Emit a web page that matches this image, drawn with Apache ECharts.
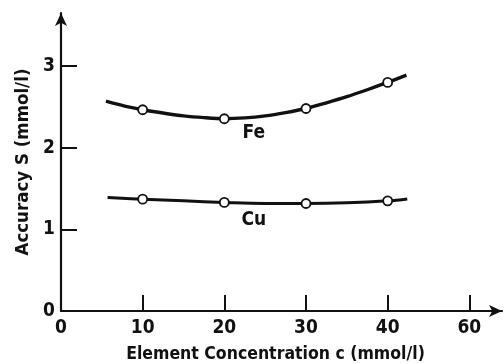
<!DOCTYPE html>
<html><head><meta charset="utf-8">
<script src="https://cdn.jsdelivr.net/npm/echarts@6/dist/echarts.min.js"></script>
<style>html,body{margin:0;padding:0;background:#fff}#c{width:504px;height:364px}</style>
</head><body><div id="c"></div>
<script>
// Data
const xTickValues = [10, 20, 30, 40, 50];
const xLabelValues = [0, 10, 20, 30, 40, 50];
const xTickLabels = ['0', '10', '20', '30', '40', '60'];
const yTickValues = [1, 2, 3];
const yLabelValues = [0, 1, 2, 3];
const feCurve = [[5.5,2.57],[7.8,2.51],[10,2.465],[12.5,2.425],[15,2.39],[17.5,2.368],[20,2.355],[22.5,2.365],[25,2.39],[27.5,2.43],[30,2.48],[32.5,2.55],[35,2.625],[37.5,2.71],[40,2.80],[42.3,2.89]];
const cuCurve = [[5.7,1.39],[10,1.37],[15,1.349],[20,1.33],[25,1.318],[30,1.317],[35,1.325],[40,1.349],[42.4,1.373]];
const fePoints = [[10,2.465],[20,2.355],[30,2.48],[40,2.80]];
const cuPoints = [[10,1.37],[20,1.33],[30,1.317],[40,1.349]];
const curveLabels = [[23.6,2.175,'Fe'],[23.6,1.11,'Cu']];

const FONT = "'DejaVu Sans Condensed','Liberation Sans Narrow','Roboto Condensed','DejaVu Sans',sans-serif";
const INK = '#111';
const FW = 'bold';
const chart = echarts.init(document.getElementById('c'), null, {renderer:'canvas'});
chart.setOption({
  animation: false,
  backgroundColor: '#fff',
  grid: {left: 61, right: 2, top: 13, bottom: 53, containLabel: false, outerBoundsMode: 'none'},
  xAxis: {
    type: 'value', min: 0, max: 54,
    name: 'Element Concentration c (mmol/l)', nameLocation: 'middle', nameGap: 34,
    nameTextStyle: {fontFamily: FONT, fontSize: 17.5, fontWeight: FW, color: INK, padding: [0, 12, 0, 0]},
    axisLine: {show: true, lineStyle: {color: INK, width: 2.2}, symbol: ['none', 'arrow'], symbolSize: [9, 13]},
    axisTick: {show: true, inside: true, length: 16, lineStyle: {color: INK, width: 2}, customValues: xTickValues},
    axisLabel: {customValues: xLabelValues, margin: 8, fontFamily: FONT, fontSize: 19, fontWeight: FW, color: INK,
      formatter: v => xTickLabels[xLabelValues.indexOf(v)] ?? ''},
    splitLine: {show: false}
  },
  yAxis: {
    type: 'value', min: 0, max: 3.65,
    name: 'Accuracy S (mmol/l)', nameLocation: 'middle', nameGap: 27,
    nameTextStyle: {fontFamily: FONT, fontSize: 18.5, fontWeight: FW, color: INK},
    axisLine: {show: true, lineStyle: {color: INK, width: 2.2}, symbol: ['none', 'arrow'], symbolSize: [9, 13]},
    axisTick: {show: true, inside: true, length: 16, lineStyle: {color: INK, width: 2}, customValues: yTickValues},
    axisLabel: {customValues: yLabelValues, margin: 6, fontFamily: FONT, fontSize: 19, fontWeight: FW, color: INK},
    splitLine: {show: false}
  },
  series: [
    {type: 'line', data: feCurve, smooth: 0.3, showSymbol: false, symbol: 'none', lineStyle: {color: INK, width: 3.4}},
    {type: 'line', data: cuCurve, smooth: 0.4, showSymbol: false, symbol: 'none', lineStyle: {color: INK, width: 3}},
    {type: 'scatter', data: fePoints, symbol: 'circle', symbolSize: 9, itemStyle: {color: '#fff', opacity: 1, borderColor: INK, borderWidth: 1.8}, z: 5},
    {type: 'scatter', data: cuPoints, symbol: 'circle', symbolSize: 9, itemStyle: {color: '#fff', opacity: 1, borderColor: INK, borderWidth: 1.8}, z: 5},
    {type: 'scatter', data: curveLabels, symbolSize: 0, silent: true, itemStyle: {opacity: 1},
      label: {show: true, position: 'inside', formatter: p => p.value[2], fontFamily: FONT, fontSize: 19, fontWeight: FW, color: INK}}
  ]
});
</script></body></html>
